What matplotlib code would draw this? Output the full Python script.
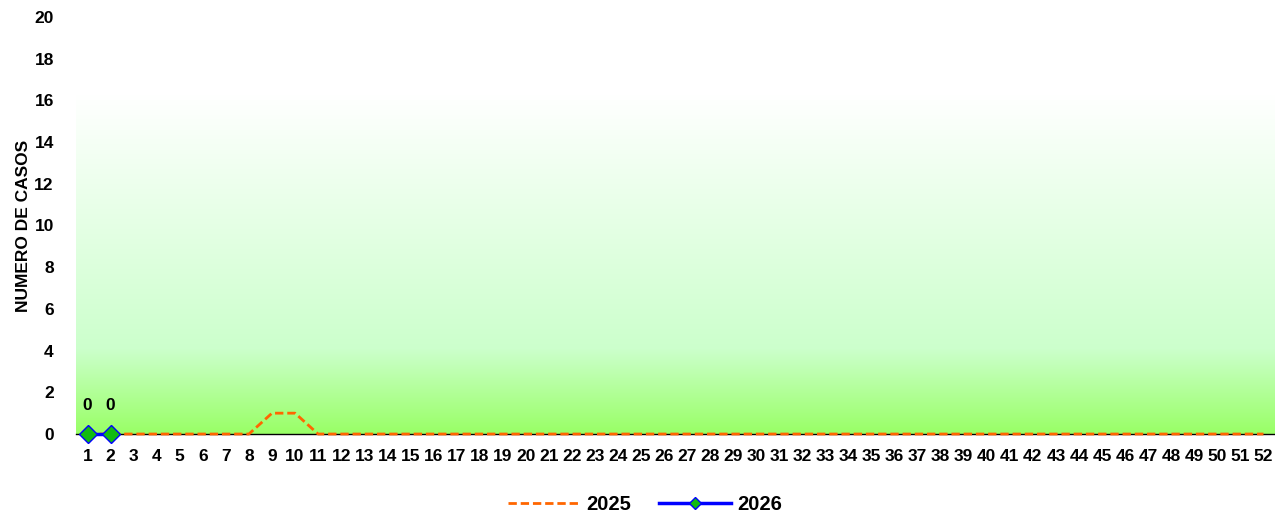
import numpy as np
import matplotlib.pyplot as plt
from matplotlib.colors import LinearSegmentedColormap

plt.rcParams['font.family'] = ['Liberation Sans', 'DejaVu Sans']
plt.rcParams['font.weight'] = 'bold'

# Data
semanas = list(range(1, 53))
casos_2025 = [0, 0, 0, 0, 0, 0, 0, 0, 1, 1] + [0] * 42
semanas_2026 = [1, 2]
casos_2026 = [0, 0]

fig = plt.figure(figsize=(12.75, 5.14), dpi=100)
ax = fig.add_axes([0.0596, 0.1556, 0.9404, 0.8114])

# Gradient background (white at top -> light green -> green at bottom)
cmap = LinearSegmentedColormap.from_list(
    'verde', [(0.0, '#99ff66'), (0.25, '#ccffcc'), (1.0, '#ffffff')])
grad = np.linspace(0, 1, 256).reshape(-1, 1)
ax.imshow(grad, cmap=cmap, origin='lower', aspect='auto',
          extent=(0.5, 52.5, 0, 16.3), zorder=0)

ax.plot(semanas, casos_2025, color='#ff6600', linestyle=(0, (3, 1.4)),
        linewidth=2, label='2025', zorder=3, clip_on=False)
ax.plot(semanas_2026, casos_2026, color='#0000ff', linewidth=2.5,
        marker='D', markersize=9, markerfacecolor='#11bb11',
        markeredgecolor='#0000ff', markeredgewidth=1, label='2026',
        zorder=4, clip_on=False)

for x, y in zip(semanas_2026, casos_2026):
    ax.annotate(str(y), (x, y), xytext=(0, 15), textcoords='offset points',
                ha='center', va='bottom', fontsize=12.5, fontweight='bold')

ax.set_xlim(0.5, 52.5)
ax.set_ylim(0, 20)
ax.set_xticks(semanas)
ax.set_xticklabels([str(s) for s in semanas], fontsize=12.5, fontweight='bold')
ax.set_yticks(range(0, 21, 2))
ax.set_yticklabels([str(v) for v in range(0, 21, 2)], fontsize=12.5, fontweight='bold')
ax.tick_params(axis='x', length=0, pad=11)
ax.tick_params(axis='y', length=0, pad=16)

for s in ['top', 'right', 'left']:
    ax.spines[s].set_visible(False)
ax.spines['bottom'].set_color('black')
ax.spines['bottom'].set_linewidth(1)
ax.spines['bottom'].set_zorder(2)

ax.set_ylabel('NUMERO DE CASOS', fontsize=12.5, fontweight='bold', labelpad=2)

leg = fig.legend(loc='lower center', bbox_to_anchor=(0.506, -0.035), ncol=2,
                 frameon=False, fontsize=14.5, handlelength=3.6, columnspacing=1.35,
                 handletextpad=0.3, markerscale=0.7)
for t in leg.get_texts():
    t.set_fontweight('bold')

fig.savefig('out.png', dpi=100)
